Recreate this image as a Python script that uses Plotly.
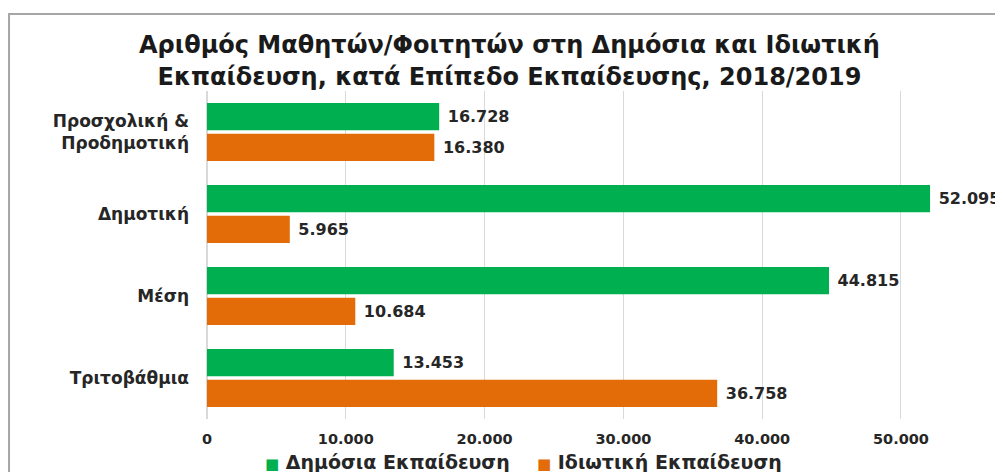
import plotly.graph_objects as go

levels = ["Προσχολική &<br>Προδημοτική", "Δημοτική", "Μέση", "Τριτοβάθμια"]
public_students = [16728, 52095, 44815, 13453]
private_students = [16380, 5965, 10684, 36758]
series_names = ["Δημόσια Εκπαίδευση", "Ιδιωτική Εκπαίδευση"]
x_ticks = [0, 10000, 20000, 30000, 40000, 50000]

GREEN = "#00B050"
ORANGE = "#E36C09"
FONT = "DejaVu Sans"
TEXT = "#262626"

# the page body adds ~8px offset, so margins are trimmed by that much
fig = go.Figure()
for name, vals, color in zip(series_names, [public_students, private_students], [GREEN, ORANGE]):
    fig.add_trace(go.Bar(
        y=levels, x=vals, orientation="h", name=name,
        marker_color=color, marker_line_width=0,
        texttemplate=" %{x:,d}", textposition="outside", cliponaxis=False,
        textfont=dict(family=FONT, size=16, color=TEXT, weight="bold"),
    ))

# legend drawn as annotations (a real legend pushes the bottom margin)
legend_items = [
    dict(x=0.0704, color=GREEN, name=series_names[0]),
    dict(x=0.412, color=ORANGE, name=series_names[1]),
]
annotations = [
    dict(xref="paper", yref="paper", x=it["x"], y=-0.13, xanchor="left", yanchor="middle",
         text=f"<span style='color:{it['color']};font-size:15px'>■</span> {it['name']}",
         showarrow=False,
         font=dict(family=FONT, size=19, color=TEXT, weight="bold"))
    for it in legend_items
]

fig.update_layout(
    width=1003, height=472,
    margin=dict(l=199, r=8, t=83, b=61),
    paper_bgcolor="white", plot_bgcolor="white",
    separators=",.",
    showlegend=False,
    barmode="group", bargap=0.25, bargroupgap=0.12,
    title=dict(
        text="Αριθμός Μαθητών/Φοιτητών στη Δημόσια και Ιδιωτική<br>"
             "Εκπαίδευση, κατά Επίπεδο Εκπαίδευσης, 2018/2019",
        x=0.5, xref="container", y=0.904, yanchor="middle", xanchor="center",
        font=dict(family=FONT, size=24, color="#1a1a1a", weight="bold"),
    ),
    xaxis=dict(
        range=[0, 57350], tickvals=x_ticks, tickformat=",d",
        showgrid=True, gridcolor="#d9d9d9", gridwidth=1,
        zeroline=True, zerolinecolor="#d9d9d9",
        tickfont=dict(family=FONT, size=14.5, color=TEXT, weight="bold"),
        ticklabelstandoff=9,
    ),
    yaxis=dict(
        autorange="reversed", showgrid=False,
        tickfont=dict(family=FONT, size=17, color=TEXT, weight="bold"),
        ticklabelstandoff=17,
    ),
    annotations=annotations,
    shapes=[dict(
        type="rect", xref="paper", yref="paper",
        x0=-0.2487, x1=1.05, y0=-0.3, y1=1.2348,
        line=dict(color="#a6a6a6", width=2), layer="below",
    )],
)

fig.write_html("out.html")
